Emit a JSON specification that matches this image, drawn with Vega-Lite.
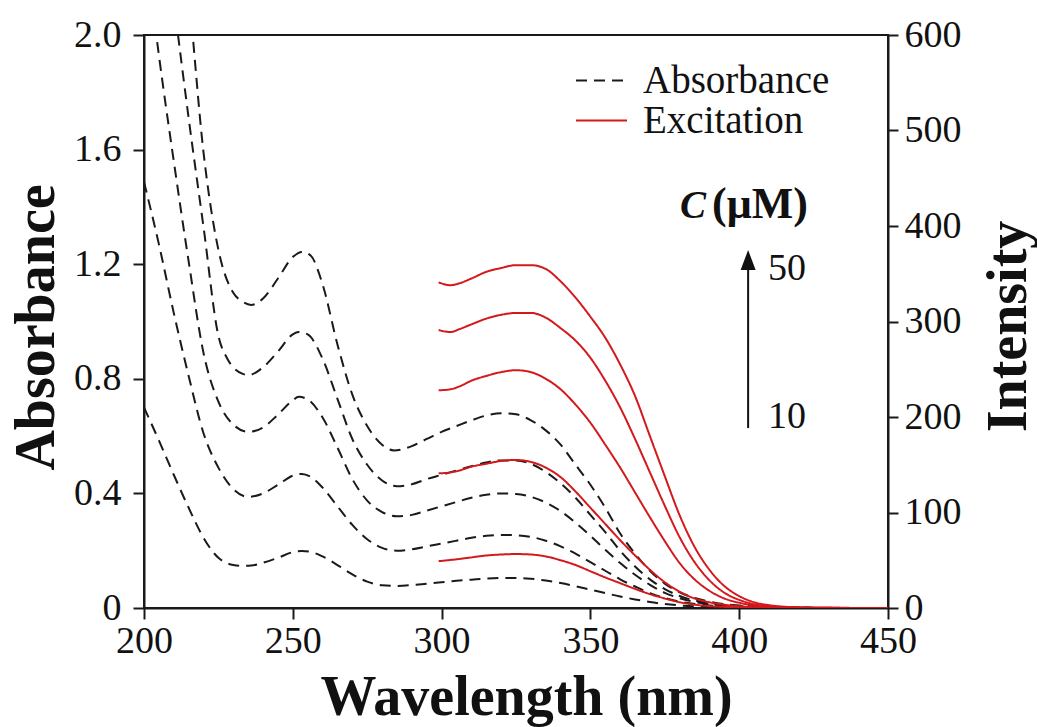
{
"$schema": "https://vega.github.io/schema/vega-lite/v6.json",
"width": 744, "height": 573,
"autosize": {"type": "none"},
"padding": {"left": 144, "top": 35, "right": 149, "bottom": 119},
"background": "white",
"config": {
  "font": "Liberation Serif, Times New Roman, Times, serif",
  "view": {"stroke": "#1a1a1a", "strokeWidth": 2},
  "axis": {"grid": false, "domainColor": "#1a1a1a", "domainWidth": 2, "tickColor": "#1a1a1a", "tickWidth": 2, "labelFont": "Liberation Serif, Times New Roman, Times, serif", "labelColor": "#111111", "labelFontSize": 38, "labelFlush": false, "labelOverlap": false, "titleFont": "Liberation Serif, Times New Roman, Times, serif", "titleColor": "#111111", "titleFontWeight": "bold", "titleFontSize": 56},
  "legend": {"labelFont": "Liberation Serif, Times New Roman, Times, serif", "labelLimit": 400}
},
"datasets": {
  "absorbance": [
{"type":"Absorbance","c":10,"x":200,"v":0.70},{"type":"Absorbance","c":10,"x":205,"v":0.585},{"type":"Absorbance","c":10,"x":210,"v":0.465},{"type":"Absorbance","c":10,"x":215,"v":0.35},{"type":"Absorbance","c":10,"x":220,"v":0.245},{"type":"Absorbance","c":10,"x":225,"v":0.175},{"type":"Absorbance","c":10,"x":230,"v":0.15},{"type":"Absorbance","c":10,"x":233,"v":0.147},{"type":"Absorbance","c":10,"x":236,"v":0.148},{"type":"Absorbance","c":10,"x":240,"v":0.158},{"type":"Absorbance","c":10,"x":245,"v":0.175},{"type":"Absorbance","c":10,"x":250,"v":0.195},{"type":"Absorbance","c":10,"x":253,"v":0.199},{"type":"Absorbance","c":10,"x":256,"v":0.196},{"type":"Absorbance","c":10,"x":260,"v":0.18},{"type":"Absorbance","c":10,"x":265,"v":0.15},{"type":"Absorbance","c":10,"x":270,"v":0.117},{"type":"Absorbance","c":10,"x":275,"v":0.092},{"type":"Absorbance","c":10,"x":280,"v":0.079},{"type":"Absorbance","c":10,"x":285,"v":0.077},{"type":"Absorbance","c":10,"x":290,"v":0.08},{"type":"Absorbance","c":10,"x":295,"v":0.085},{"type":"Absorbance","c":10,"x":300,"v":0.09},{"type":"Absorbance","c":10,"x":305,"v":0.095},{"type":"Absorbance","c":10,"x":310,"v":0.099},{"type":"Absorbance","c":10,"x":315,"v":0.103},{"type":"Absorbance","c":10,"x":320,"v":0.105},{"type":"Absorbance","c":10,"x":325,"v":0.105},{"type":"Absorbance","c":10,"x":330,"v":0.102},{"type":"Absorbance","c":10,"x":335,"v":0.096},{"type":"Absorbance","c":10,"x":340,"v":0.087},{"type":"Absorbance","c":10,"x":345,"v":0.076},{"type":"Absorbance","c":10,"x":350,"v":0.064},{"type":"Absorbance","c":10,"x":355,"v":0.052},{"type":"Absorbance","c":10,"x":360,"v":0.04},{"type":"Absorbance","c":10,"x":365,"v":0.03},{"type":"Absorbance","c":10,"x":370,"v":0.021},{"type":"Absorbance","c":10,"x":375,"v":0.014},{"type":"Absorbance","c":10,"x":380,"v":0.009},{"type":"Absorbance","c":10,"x":390,"v":0.004},{"type":"Absorbance","c":10,"x":400,"v":0.0015},{"type":"Absorbance","c":10,"x":410,"v":0.0006},{"type":"Absorbance","c":10,"x":420,"v":0.0002},{"type":"Absorbance","c":10,"x":430,"v":0},{"type":"Absorbance","c":10,"x":450,"v":0},
{"type":"Absorbance","c":20,"x":200,"v":1.487},{"type":"Absorbance","c":20,"x":205,"v":1.27},{"type":"Absorbance","c":20,"x":210,"v":1.03},{"type":"Absorbance","c":20,"x":215,"v":0.81},{"type":"Absorbance","c":20,"x":220,"v":0.61},{"type":"Absorbance","c":20,"x":225,"v":0.49},{"type":"Absorbance","c":20,"x":230,"v":0.415},{"type":"Absorbance","c":20,"x":235,"v":0.388},{"type":"Absorbance","c":20,"x":240,"v":0.40},{"type":"Absorbance","c":20,"x":245,"v":0.43},{"type":"Absorbance","c":20,"x":250,"v":0.462},{"type":"Absorbance","c":20,"x":253,"v":0.468},{"type":"Absorbance","c":20,"x":256,"v":0.458},{"type":"Absorbance","c":20,"x":260,"v":0.42},{"type":"Absorbance","c":20,"x":265,"v":0.355},{"type":"Absorbance","c":20,"x":270,"v":0.29},{"type":"Absorbance","c":20,"x":275,"v":0.24},{"type":"Absorbance","c":20,"x":280,"v":0.21},{"type":"Absorbance","c":20,"x":285,"v":0.20},{"type":"Absorbance","c":20,"x":290,"v":0.205},{"type":"Absorbance","c":20,"x":295,"v":0.215},{"type":"Absorbance","c":20,"x":300,"v":0.225},{"type":"Absorbance","c":20,"x":305,"v":0.235},{"type":"Absorbance","c":20,"x":310,"v":0.245},{"type":"Absorbance","c":20,"x":315,"v":0.252},{"type":"Absorbance","c":20,"x":320,"v":0.255},{"type":"Absorbance","c":20,"x":325,"v":0.254},{"type":"Absorbance","c":20,"x":330,"v":0.248},{"type":"Absorbance","c":20,"x":335,"v":0.235},{"type":"Absorbance","c":20,"x":340,"v":0.215},{"type":"Absorbance","c":20,"x":345,"v":0.19},{"type":"Absorbance","c":20,"x":350,"v":0.16},{"type":"Absorbance","c":20,"x":355,"v":0.13},{"type":"Absorbance","c":20,"x":360,"v":0.10},{"type":"Absorbance","c":20,"x":365,"v":0.075},{"type":"Absorbance","c":20,"x":370,"v":0.052},{"type":"Absorbance","c":20,"x":375,"v":0.035},{"type":"Absorbance","c":20,"x":380,"v":0.022},{"type":"Absorbance","c":20,"x":390,"v":0.009},{"type":"Absorbance","c":20,"x":400,"v":0.004},{"type":"Absorbance","c":20,"x":410,"v":0.0015},{"type":"Absorbance","c":20,"x":420,"v":0.0005},{"type":"Absorbance","c":20,"x":430,"v":0},{"type":"Absorbance","c":20,"x":450,"v":0},
{"type":"Absorbance","c":30,"x":200,"v":2.35},{"type":"Absorbance","c":30,"x":205,"v":1.93},{"type":"Absorbance","c":30,"x":210,"v":1.56},{"type":"Absorbance","c":30,"x":215,"v":1.21},{"type":"Absorbance","c":30,"x":220,"v":0.89},{"type":"Absorbance","c":30,"x":225,"v":0.72},{"type":"Absorbance","c":30,"x":230,"v":0.64},{"type":"Absorbance","c":30,"x":235,"v":0.615},{"type":"Absorbance","c":30,"x":240,"v":0.63},{"type":"Absorbance","c":30,"x":245,"v":0.675},{"type":"Absorbance","c":30,"x":250,"v":0.725},{"type":"Absorbance","c":30,"x":252,"v":0.737},{"type":"Absorbance","c":30,"x":255,"v":0.728},{"type":"Absorbance","c":30,"x":260,"v":0.665},{"type":"Absorbance","c":30,"x":265,"v":0.56},{"type":"Absorbance","c":30,"x":270,"v":0.45},{"type":"Absorbance","c":30,"x":275,"v":0.375},{"type":"Absorbance","c":30,"x":280,"v":0.335},{"type":"Absorbance","c":30,"x":285,"v":0.32},{"type":"Absorbance","c":30,"x":290,"v":0.325},{"type":"Absorbance","c":30,"x":295,"v":0.34},{"type":"Absorbance","c":30,"x":300,"v":0.355},{"type":"Absorbance","c":30,"x":305,"v":0.37},{"type":"Absorbance","c":30,"x":310,"v":0.385},{"type":"Absorbance","c":30,"x":315,"v":0.395},{"type":"Absorbance","c":30,"x":320,"v":0.40},{"type":"Absorbance","c":30,"x":325,"v":0.398},{"type":"Absorbance","c":30,"x":330,"v":0.388},{"type":"Absorbance","c":30,"x":335,"v":0.368},{"type":"Absorbance","c":30,"x":340,"v":0.338},{"type":"Absorbance","c":30,"x":345,"v":0.298},{"type":"Absorbance","c":30,"x":350,"v":0.252},{"type":"Absorbance","c":30,"x":355,"v":0.203},{"type":"Absorbance","c":30,"x":360,"v":0.157},{"type":"Absorbance","c":30,"x":365,"v":0.116},{"type":"Absorbance","c":30,"x":370,"v":0.081},{"type":"Absorbance","c":30,"x":375,"v":0.053},{"type":"Absorbance","c":30,"x":380,"v":0.034},{"type":"Absorbance","c":30,"x":390,"v":0.013},{"type":"Absorbance","c":30,"x":400,"v":0.005},{"type":"Absorbance","c":30,"x":410,"v":0.002},{"type":"Absorbance","c":30,"x":420,"v":0.0007},{"type":"Absorbance","c":30,"x":430,"v":0},{"type":"Absorbance","c":30,"x":450,"v":0},
{"type":"Absorbance","c":40,"x":200,"v":3.0},{"type":"Absorbance","c":40,"x":205,"v":2.55},{"type":"Absorbance","c":40,"x":210,"v":2.12},{"type":"Absorbance","c":40,"x":215,"v":1.71},{"type":"Absorbance","c":40,"x":220,"v":1.33},{"type":"Absorbance","c":40,"x":225,"v":0.95},{"type":"Absorbance","c":40,"x":228,"v":0.87},{"type":"Absorbance","c":40,"x":230,"v":0.84},{"type":"Absorbance","c":40,"x":233,"v":0.818},{"type":"Absorbance","c":40,"x":235,"v":0.813},{"type":"Absorbance","c":40,"x":240,"v":0.84},{"type":"Absorbance","c":40,"x":245,"v":0.895},{"type":"Absorbance","c":40,"x":250,"v":0.955},{"type":"Absorbance","c":40,"x":252,"v":0.963},{"type":"Absorbance","c":40,"x":255,"v":0.955},{"type":"Absorbance","c":40,"x":260,"v":0.87},{"type":"Absorbance","c":40,"x":265,"v":0.73},{"type":"Absorbance","c":40,"x":270,"v":0.59},{"type":"Absorbance","c":40,"x":275,"v":0.50},{"type":"Absorbance","c":40,"x":280,"v":0.445},{"type":"Absorbance","c":40,"x":285,"v":0.425},{"type":"Absorbance","c":40,"x":290,"v":0.432},{"type":"Absorbance","c":40,"x":295,"v":0.45},{"type":"Absorbance","c":40,"x":300,"v":0.465},{"type":"Absorbance","c":40,"x":305,"v":0.48},{"type":"Absorbance","c":40,"x":310,"v":0.495},{"type":"Absorbance","c":40,"x":315,"v":0.508},{"type":"Absorbance","c":40,"x":320,"v":0.515},{"type":"Absorbance","c":40,"x":325,"v":0.515},{"type":"Absorbance","c":40,"x":330,"v":0.503},{"type":"Absorbance","c":40,"x":335,"v":0.475},{"type":"Absorbance","c":40,"x":340,"v":0.435},{"type":"Absorbance","c":40,"x":345,"v":0.385},{"type":"Absorbance","c":40,"x":350,"v":0.325},{"type":"Absorbance","c":40,"x":355,"v":0.265},{"type":"Absorbance","c":40,"x":360,"v":0.20},{"type":"Absorbance","c":40,"x":365,"v":0.145},{"type":"Absorbance","c":40,"x":370,"v":0.10},{"type":"Absorbance","c":40,"x":375,"v":0.066},{"type":"Absorbance","c":40,"x":380,"v":0.042},{"type":"Absorbance","c":40,"x":390,"v":0.017},{"type":"Absorbance","c":40,"x":400,"v":0.007},{"type":"Absorbance","c":40,"x":410,"v":0.003},{"type":"Absorbance","c":40,"x":420,"v":0.001},{"type":"Absorbance","c":40,"x":430,"v":0},{"type":"Absorbance","c":40,"x":450,"v":0},
{"type":"Absorbance","c":50,"x":200,"v":3.6},{"type":"Absorbance","c":50,"x":205,"v":3.1},{"type":"Absorbance","c":50,"x":210,"v":2.6},{"type":"Absorbance","c":50,"x":215,"v":2.15},{"type":"Absorbance","c":50,"x":220,"v":1.59},{"type":"Absorbance","c":50,"x":225,"v":1.25},{"type":"Absorbance","c":50,"x":230,"v":1.10},{"type":"Absorbance","c":50,"x":233,"v":1.07},{"type":"Absorbance","c":50,"x":236,"v":1.058},{"type":"Absorbance","c":50,"x":240,"v":1.08},{"type":"Absorbance","c":50,"x":245,"v":1.15},{"type":"Absorbance","c":50,"x":250,"v":1.225},{"type":"Absorbance","c":50,"x":253,"v":1.243},{"type":"Absorbance","c":50,"x":256,"v":1.23},{"type":"Absorbance","c":50,"x":260,"v":1.13},{"type":"Absorbance","c":50,"x":265,"v":0.92},{"type":"Absorbance","c":50,"x":270,"v":0.745},{"type":"Absorbance","c":50,"x":275,"v":0.635},{"type":"Absorbance","c":50,"x":280,"v":0.57},{"type":"Absorbance","c":50,"x":284,"v":0.55},{"type":"Absorbance","c":50,"x":290,"v":0.565},{"type":"Absorbance","c":50,"x":295,"v":0.59},{"type":"Absorbance","c":50,"x":300,"v":0.615},{"type":"Absorbance","c":50,"x":305,"v":0.635},{"type":"Absorbance","c":50,"x":310,"v":0.655},{"type":"Absorbance","c":50,"x":315,"v":0.672},{"type":"Absorbance","c":50,"x":320,"v":0.68},{"type":"Absorbance","c":50,"x":325,"v":0.676},{"type":"Absorbance","c":50,"x":330,"v":0.655},{"type":"Absorbance","c":50,"x":335,"v":0.62},{"type":"Absorbance","c":50,"x":340,"v":0.57},{"type":"Absorbance","c":50,"x":345,"v":0.50},{"type":"Absorbance","c":50,"x":350,"v":0.43},{"type":"Absorbance","c":50,"x":355,"v":0.35},{"type":"Absorbance","c":50,"x":360,"v":0.26},{"type":"Absorbance","c":50,"x":365,"v":0.19},{"type":"Absorbance","c":50,"x":370,"v":0.13},{"type":"Absorbance","c":50,"x":375,"v":0.085},{"type":"Absorbance","c":50,"x":380,"v":0.055},{"type":"Absorbance","c":50,"x":390,"v":0.022},{"type":"Absorbance","c":50,"x":400,"v":0.009},{"type":"Absorbance","c":50,"x":410,"v":0.004},{"type":"Absorbance","c":50,"x":420,"v":0.0015},{"type":"Absorbance","c":50,"x":430,"v":0},{"type":"Absorbance","c":50,"x":450,"v":0}
  ],
  "excitation": [
{"type":"Excitation","c":10,"x":299,"v":49},{"type":"Excitation","c":10,"x":305,"v":51},{"type":"Excitation","c":10,"x":310,"v":53},{"type":"Excitation","c":10,"x":315,"v":55},{"type":"Excitation","c":10,"x":320,"v":56},{"type":"Excitation","c":10,"x":325,"v":56.5},{"type":"Excitation","c":10,"x":330,"v":56},{"type":"Excitation","c":10,"x":335,"v":54},{"type":"Excitation","c":10,"x":340,"v":50},{"type":"Excitation","c":10,"x":345,"v":45},{"type":"Excitation","c":10,"x":350,"v":38.5},{"type":"Excitation","c":10,"x":355,"v":32},{"type":"Excitation","c":10,"x":360,"v":26},{"type":"Excitation","c":10,"x":365,"v":20},{"type":"Excitation","c":10,"x":370,"v":14.5},{"type":"Excitation","c":10,"x":375,"v":10},{"type":"Excitation","c":10,"x":380,"v":6},{"type":"Excitation","c":10,"x":385,"v":3.5},{"type":"Excitation","c":10,"x":390,"v":2},{"type":"Excitation","c":10,"x":395,"v":1.2},{"type":"Excitation","c":10,"x":400,"v":0.6},{"type":"Excitation","c":10,"x":410,"v":0.15},{"type":"Excitation","c":10,"x":420,"v":0},{"type":"Excitation","c":10,"x":450,"v":0},
{"type":"Excitation","c":20,"x":299,"v":141},{"type":"Excitation","c":20,"x":303,"v":142},{"type":"Excitation","c":20,"x":306,"v":144},{"type":"Excitation","c":20,"x":310,"v":148},{"type":"Excitation","c":20,"x":315,"v":151},{"type":"Excitation","c":20,"x":320,"v":154},{"type":"Excitation","c":20,"x":325,"v":155},{"type":"Excitation","c":20,"x":330,"v":153},{"type":"Excitation","c":20,"x":335,"v":147},{"type":"Excitation","c":20,"x":340,"v":137},{"type":"Excitation","c":20,"x":345,"v":122},{"type":"Excitation","c":20,"x":350,"v":105},{"type":"Excitation","c":20,"x":355,"v":88},{"type":"Excitation","c":20,"x":360,"v":71},{"type":"Excitation","c":20,"x":365,"v":55},{"type":"Excitation","c":20,"x":370,"v":40},{"type":"Excitation","c":20,"x":375,"v":27},{"type":"Excitation","c":20,"x":380,"v":17},{"type":"Excitation","c":20,"x":385,"v":10},{"type":"Excitation","c":20,"x":390,"v":6},{"type":"Excitation","c":20,"x":395,"v":3.5},{"type":"Excitation","c":20,"x":400,"v":1.8},{"type":"Excitation","c":20,"x":405,"v":0.8},{"type":"Excitation","c":20,"x":410,"v":0.4},{"type":"Excitation","c":20,"x":420,"v":0.1},{"type":"Excitation","c":20,"x":450,"v":0},
{"type":"Excitation","c":30,"x":299,"v":228},{"type":"Excitation","c":30,"x":303,"v":229},{"type":"Excitation","c":30,"x":306,"v":232},{"type":"Excitation","c":30,"x":310,"v":238},{"type":"Excitation","c":30,"x":315,"v":243},{"type":"Excitation","c":30,"x":320,"v":247},{"type":"Excitation","c":30,"x":325,"v":249},{"type":"Excitation","c":30,"x":330,"v":247},{"type":"Excitation","c":30,"x":335,"v":240},{"type":"Excitation","c":30,"x":340,"v":229},{"type":"Excitation","c":30,"x":345,"v":213},{"type":"Excitation","c":30,"x":350,"v":194},{"type":"Excitation","c":30,"x":355,"v":171},{"type":"Excitation","c":30,"x":360,"v":147},{"type":"Excitation","c":30,"x":365,"v":121},{"type":"Excitation","c":30,"x":370,"v":95},{"type":"Excitation","c":30,"x":375,"v":70},{"type":"Excitation","c":30,"x":380,"v":47},{"type":"Excitation","c":30,"x":385,"v":30},{"type":"Excitation","c":30,"x":390,"v":18},{"type":"Excitation","c":30,"x":395,"v":10},{"type":"Excitation","c":30,"x":400,"v":5.5},{"type":"Excitation","c":30,"x":405,"v":2.7},{"type":"Excitation","c":30,"x":410,"v":1.3},{"type":"Excitation","c":30,"x":420,"v":0.3},{"type":"Excitation","c":30,"x":450,"v":0},
{"type":"Excitation","c":40,"x":299,"v":291},{"type":"Excitation","c":40,"x":303,"v":289},{"type":"Excitation","c":40,"x":306,"v":292},{"type":"Excitation","c":40,"x":310,"v":297},{"type":"Excitation","c":40,"x":315,"v":303},{"type":"Excitation","c":40,"x":320,"v":307},{"type":"Excitation","c":40,"x":325,"v":309},{"type":"Excitation","c":40,"x":330,"v":309},{"type":"Excitation","c":40,"x":335,"v":304},{"type":"Excitation","c":40,"x":340,"v":293},{"type":"Excitation","c":40,"x":345,"v":280},{"type":"Excitation","c":40,"x":350,"v":262},{"type":"Excitation","c":40,"x":355,"v":238},{"type":"Excitation","c":40,"x":360,"v":210},{"type":"Excitation","c":40,"x":365,"v":177},{"type":"Excitation","c":40,"x":370,"v":142},{"type":"Excitation","c":40,"x":375,"v":107},{"type":"Excitation","c":40,"x":380,"v":74},{"type":"Excitation","c":40,"x":385,"v":48},{"type":"Excitation","c":40,"x":390,"v":29},{"type":"Excitation","c":40,"x":395,"v":16},{"type":"Excitation","c":40,"x":400,"v":8.5},{"type":"Excitation","c":40,"x":405,"v":4},{"type":"Excitation","c":40,"x":410,"v":2},{"type":"Excitation","c":40,"x":420,"v":0.5},{"type":"Excitation","c":40,"x":450,"v":0},
{"type":"Excitation","c":50,"x":299,"v":341},{"type":"Excitation","c":50,"x":303,"v":338},{"type":"Excitation","c":50,"x":306,"v":340},{"type":"Excitation","c":50,"x":310,"v":345},{"type":"Excitation","c":50,"x":315,"v":352},{"type":"Excitation","c":50,"x":320,"v":356},{"type":"Excitation","c":50,"x":325,"v":359},{"type":"Excitation","c":50,"x":330,"v":359},{"type":"Excitation","c":50,"x":335,"v":355},{"type":"Excitation","c":50,"x":340,"v":342},{"type":"Excitation","c":50,"x":345,"v":325},{"type":"Excitation","c":50,"x":350,"v":305},{"type":"Excitation","c":50,"x":355,"v":283},{"type":"Excitation","c":50,"x":360,"v":255},{"type":"Excitation","c":50,"x":365,"v":222},{"type":"Excitation","c":50,"x":370,"v":180},{"type":"Excitation","c":50,"x":375,"v":138},{"type":"Excitation","c":50,"x":380,"v":97},{"type":"Excitation","c":50,"x":385,"v":64},{"type":"Excitation","c":50,"x":390,"v":40},{"type":"Excitation","c":50,"x":395,"v":23},{"type":"Excitation","c":50,"x":400,"v":12.5},{"type":"Excitation","c":50,"x":405,"v":6},{"type":"Excitation","c":50,"x":410,"v":3},{"type":"Excitation","c":50,"x":420,"v":0.7},{"type":"Excitation","c":50,"x":430,"v":0.2},{"type":"Excitation","c":50,"x":450,"v":0}
  ],
  "arrow": [{"x": 403, "v": 0.628, "v2": 1.2}],
  "head": [{"x": 403, "v": 1.2147}],
  "labels": [{"x": 409.7, "v": 1.145, "label": "50"}, {"x": 409.7, "v": 0.628, "label": "10"}],
  "ctitle": [{"x": 380.1, "v": 1.361, "label": "C"}],
  "unit": [{"x": 390.9, "v": 1.361, "label": "(μM)"}]
},
"encoding": {
  "x": {"field": "x", "type": "quantitative", "scale": {"domain": [200, 450], "nice": false, "zero": false},
    "axis": {"values": [200, 250, 300, 350, 400, 450], "tickSize": 11, "labelPadding": 3, "title": "Wavelength (nm)", "titleX": 382, "titleY": 106, "titleBaseline": "alphabetic", "titleAlign": "center", "titleAnchor": null}}
},
"layer": [
  {
    "data": {"name": "absorbance"},
    "mark": {"type": "line", "strokeWidth": 2, "clip": true, "interpolate": "monotone"},
    "encoding": {
      "y": {"field": "v", "type": "quantitative", "scale": {"domain": [0, 2], "nice": false},
        "axis": {"orient": "left", "values": [0, 0.4, 0.8, 1.2, 1.6, 2], "labelExpr": "datum.value == 0 ? '0' : format(datum.value, '.1f')", "tickSize": 11, "labelPadding": 12, "title": "Absorbance", "titleAngle": 270, "titleX": -91, "titleY": 292, "titleBaseline": "alphabetic", "titleAlign": "center", "titleAnchor": null}},
      "color": {"field": "type", "type": "nominal", "scale": {"domain": ["Absorbance", "Excitation"], "range": ["#1a1a1a", "#d3191c"]},
        "legend": {"orient": "none", "legendX": 438, "legendY": 26, "title": null, "symbolType": "M-2,0H2", "symbolSize": 650, "symbolFillColor": "transparent", "symbolStrokeWidth": 2, "labelFont": "Liberation Serif, Times New Roman, Times, serif", "labelFontSize": 39, "labelLimit": 400, "labelColor": "#111111", "labelOffset": 22, "rowPadding": 0, "padding": 0}},
      "strokeDash": {"field": "type", "type": "nominal", "scale": {"domain": ["Absorbance", "Excitation"], "range": [[11, 7], [1, 0]]},
        "legend": {"orient": "none", "legendX": 438, "legendY": 26, "title": null, "symbolType": "M-2,0H2", "symbolSize": 650, "symbolFillColor": "transparent", "symbolStrokeWidth": 2, "labelFont": "Liberation Serif, Times New Roman, Times, serif", "labelFontSize": 39, "labelLimit": 400, "labelColor": "#111111", "labelOffset": 22, "rowPadding": 0, "padding": 0}},
      "detail": {"field": "c", "type": "nominal"}
    }
  },
  {
    "data": {"name": "excitation"},
    "mark": {"type": "line", "strokeWidth": 2, "clip": true, "interpolate": "monotone"},
    "encoding": {
      "y": {"field": "v", "type": "quantitative", "scale": {"domain": [0, 600], "nice": false},
        "axis": {"orient": "right", "values": [0, 100, 200, 300, 400, 500, 600], "tickSize": 10, "labelPadding": 6, "title": "Intensity", "titleAngle": 270, "titleX": 137, "titleY": 291, "titleBaseline": "alphabetic", "titleAlign": "center", "titleAnchor": null}},
      "color": {"field": "type", "type": "nominal", "scale": {"domain": ["Absorbance", "Excitation"], "range": ["#1a1a1a", "#d3191c"]}},
      "strokeDash": {"field": "type", "type": "nominal", "scale": {"domain": ["Absorbance", "Excitation"], "range": [[11, 7], [1, 0]]}},
      "detail": {"field": "c", "type": "nominal"}
    }
  },
  {
    "data": {"name": "arrow"},
    "mark": {"type": "rule", "strokeWidth": 2, "color": "#111111"},
    "encoding": {
      "y": {"field": "v", "type": "quantitative", "scale": {"domain": [0, 2], "nice": false}, "axis": null},
      "y2": {"field": "v2"}
    }
  },
  {
    "data": {"name": "head"},
    "mark": {"type": "point", "shape": "M0,-1L0.75,1L-0.75,1Z", "size": 400, "filled": true, "color": "#111111", "opacity": 1},
    "encoding": {
      "y": {"field": "v", "type": "quantitative", "scale": {"domain": [0, 2], "nice": false}, "axis": null}
    }
  },
  {
    "data": {"name": "labels"},
    "mark": {"type": "text", "align": "left", "baseline": "alphabetic", "font": "Liberation Serif, Times New Roman, Times, serif", "fontSize": 38, "color": "#111111"},
    "encoding": {
      "y": {"field": "v", "type": "quantitative", "scale": {"domain": [0, 2], "nice": false}, "axis": null},
      "text": {"field": "label"}
    }
  },
  {
    "data": {"name": "ctitle"},
    "mark": {"type": "text", "align": "left", "baseline": "alphabetic", "font": "Liberation Serif, Times New Roman, Times, serif", "fontSize": 39, "fontStyle": "italic", "fontWeight": "bold", "color": "#111111"},
    "encoding": {
      "y": {"field": "v", "type": "quantitative", "scale": {"domain": [0, 2], "nice": false}, "axis": null},
      "text": {"field": "label"}
    }
  },
  {
    "data": {"name": "unit"},
    "mark": {"type": "text", "align": "left", "baseline": "alphabetic", "font": "Liberation Serif, Times New Roman, Times, serif", "fontSize": 44, "fontWeight": "bold", "color": "#111111"},
    "encoding": {
      "y": {"field": "v", "type": "quantitative", "scale": {"domain": [0, 2], "nice": false}, "axis": null},
      "text": {"field": "label"}
    }
  }
],
"resolve": {"scale": {"y": "independent"}}
}
